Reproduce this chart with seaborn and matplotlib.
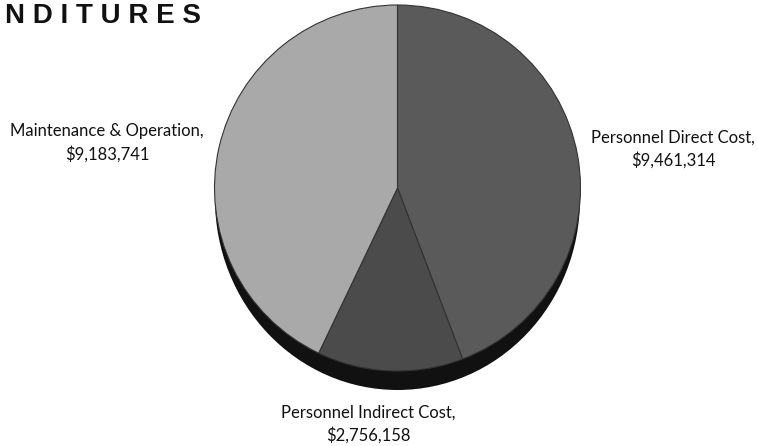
import matplotlib
matplotlib.use("Agg")
import matplotlib.pyplot as plt
import seaborn as sns
from matplotlib.patches import Ellipse

# ---- data ----
categories = ["Personnel Direct Cost", "Personnel Indirect Cost", "Maintenance & Operation"]
values = [9461314, 2756158, 9183741]
title_text = "N D I T U R E S"

sns.set_theme(style="white")
plt.rcParams['font.family'] = ['Lato', 'DejaVu Sans']

W, H = 758, 446
fig = plt.figure(figsize=(W / 100, H / 100), dpi=100)
ax = fig.add_axes([0, 0, 1, 1])

rx, ry = 188.0, 183.0
k = rx / ry                      # y data units per pixel
ax.set_xlim(0, W)
ax.set_ylim(0, H * k)
ax.set_aspect("auto")
ax.axis("off")

cx_px, cy_px = 398, 188
center = (cx_px, (H - cy_px) * k)

colors = ["#5a5a5a", "#4b4b4b", "#a9a9a9"]

# 3D-like extrusion/shadow below the pie (thin at sides, thick at bottom)
sh_cy, sh_ry = 199, 191
ax.add_patch(Ellipse((cx_px, (H - sh_cy) * k), 2 * rx - 1, 2 * sh_ry * k,
                     facecolor="#111111", edgecolor="none", zorder=1))

wedges, _ = ax.pie(values, colors=colors, startangle=90, counterclock=False,
                   center=center, radius=rx, frame=True,
                   wedgeprops=dict(edgecolor="#333333", linewidth=0.8))
for w in wedges:
    w.set_zorder(2)
ax.set_xlim(0, W)
ax.set_ylim(0, H * k)
ax.axis("off")

def fmt(v):
    return "$" + f"{v:,}"

label_pos = [(673, 149), (368, 424), (107, 143)]
for cat, v, (x, y) in zip(categories, values, label_pos):
    fig.text(x / W, 1 - y / H, f"{cat},\n{fmt(v)}", ha="center", va="center",
             fontsize=12, color="#111111", linespacing=1.45)

fig.text(5 / W, 1 - 23 / H, title_text, ha="left", va="baseline",
         fontsize=20, fontweight="bold", color="#111111",
         family=["Liberation Sans", "DejaVu Sans"])

fig.savefig("out.png", dpi=100)
